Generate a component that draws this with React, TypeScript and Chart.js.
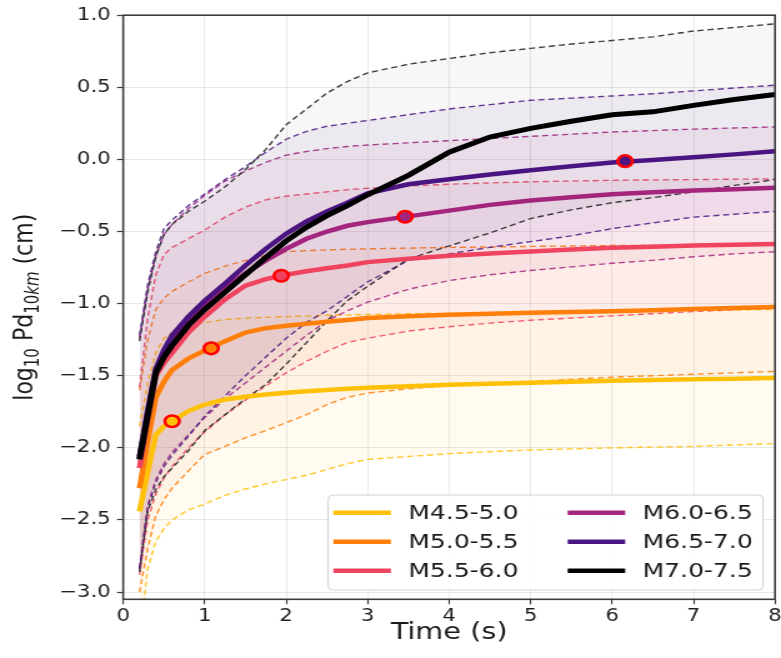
import React, { useEffect, useRef } from 'react';
import { Chart, registerables } from 'chart.js';

Chart.register(...registerables);

// ---------------- data ----------------
const times = [0.2, 0.3, 0.4, 0.5, 0.6, 0.8, 1.0, 1.25, 1.5, 1.75, 2.0, 2.25, 2.5, 2.75, 3.0, 3.5, 4.0, 4.5, 5.0, 5.5, 6.0, 6.5, 7.0, 7.5, 8.0];

const seriesLabels = ['M4.5-5.0', 'M5.0-5.5', 'M5.5-6.0', 'M6.0-6.5', 'M6.5-7.0', 'M7.0-7.5'];

const mean45 = [-2.44, -2.17, -1.91, -1.85, -1.815, -1.745, -1.70, -1.665, -1.645, -1.63, -1.618, -1.607, -1.598, -1.59, -1.583, -1.572, -1.563, -1.555, -1.548, -1.541, -1.535, -1.53, -1.525, -1.52, -1.515];
const upper45 = [-1.85, -1.55, -1.34, -1.24, -1.20, -1.165, -1.13, -1.11, -1.10, -1.095, -1.09, -1.085, -1.08, -1.078, -1.075, -1.07, -1.067, -1.063, -1.06, -1.056, -1.053, -1.05, -1.047, -1.044, -1.04];
const lower45 = [-3.35, -2.84, -2.65, -2.56, -2.50, -2.43, -2.39, -2.33, -2.285, -2.25, -2.22, -2.19, -2.15, -2.11, -2.08, -2.06, -2.04, -2.027, -2.015, -2.007, -2.0, -1.995, -1.99, -1.98, -1.97];

const mean50 = [-2.28, -1.96, -1.65, -1.54, -1.46, -1.38, -1.325, -1.26, -1.20, -1.17, -1.153, -1.14, -1.125, -1.113, -1.10, -1.088, -1.077, -1.07, -1.063, -1.058, -1.053, -1.045, -1.037, -1.03, -1.023];
const upper50 = [-1.60, -1.25, -1.04, -0.96, -0.915, -0.85, -0.79, -0.74, -0.70, -0.665, -0.64, -0.632, -0.627, -0.623, -0.62, -0.615, -0.61, -0.607, -0.603, -0.60, -0.597, -0.595, -0.592, -0.59, -0.588];
const lower50 = [-3.0, -2.70, -2.47, -2.36, -2.28, -2.16, -2.045, -1.99, -1.93, -1.88, -1.826, -1.77, -1.70, -1.65, -1.62, -1.59, -1.57, -1.555, -1.54, -1.525, -1.51, -1.50, -1.49, -1.48, -1.47];

const mean55 = [-2.14, -1.80, -1.50, -1.41, -1.34, -1.20, -1.09, -0.97, -0.875, -0.83, -0.80, -0.775, -0.755, -0.735, -0.712, -0.688, -0.668, -0.652, -0.638, -0.625, -0.612, -0.605, -0.597, -0.591, -0.586];
const upper55 = [-1.58, -1.10, -0.80, -0.66, -0.61, -0.55, -0.49, -0.40, -0.33, -0.28, -0.255, -0.24, -0.225, -0.21, -0.20, -0.185, -0.172, -0.163, -0.155, -0.15, -0.145, -0.142, -0.14, -0.137, -0.135];
const lower55 = [-2.88, -2.50, -2.32, -2.21, -2.13, -2.00, -1.89, -1.77, -1.67, -1.57, -1.48, -1.40, -1.33, -1.27, -1.24, -1.19, -1.16, -1.135, -1.115, -1.10, -1.085, -1.07, -1.055, -1.042, -1.03];

const mean60 = [-2.08, -1.76, -1.47, -1.35, -1.26, -1.12, -1.01, -0.89, -0.79, -0.70, -0.62, -0.55, -0.50, -0.46, -0.435, -0.395, -0.355, -0.315, -0.285, -0.262, -0.242, -0.228, -0.216, -0.206, -0.196];
const upper60 = [-1.24, -0.90, -0.67, -0.52, -0.45, -0.34, -0.25, -0.15, -0.08, -0.02, 0.03, 0.055, 0.075, 0.09, 0.10, 0.115, 0.13, 0.145, 0.16, 0.175, 0.19, 0.20, 0.21, 0.218, 0.225];
const lower60 = [-2.83, -2.40, -2.22, -2.11, -2.03, -1.91, -1.79, -1.66, -1.55, -1.44, -1.33, -1.22, -1.12, -1.05, -0.99, -0.90, -0.84, -0.80, -0.77, -0.745, -0.72, -0.70, -0.675, -0.655, -0.64];

const mean65 = [-2.06, -1.74, -1.45, -1.32, -1.22, -1.09, -0.98, -0.86, -0.735, -0.62, -0.515, -0.43, -0.36, -0.30, -0.235, -0.172, -0.138, -0.105, -0.075, -0.048, -0.022, -0.004, 0.015, 0.035, 0.057];
const upper65 = [-1.22, -0.87, -0.64, -0.48, -0.42, -0.32, -0.24, -0.14, -0.05, 0.05, 0.14, 0.195, 0.23, 0.25, 0.27, 0.31, 0.35, 0.38, 0.41, 0.425, 0.44, 0.455, 0.475, 0.495, 0.515];
const lower65 = [-2.84, -2.42, -2.24, -2.13, -2.05, -1.92, -1.78, -1.64, -1.50, -1.37, -1.24, -1.13, -1.05, -0.95, -0.85, -0.70, -0.655, -0.61, -0.57, -0.53, -0.48, -0.44, -0.40, -0.38, -0.36];

const mean70 = [-2.08, -1.78, -1.48, -1.37, -1.29, -1.15, -1.04, -0.92, -0.80, -0.68, -0.565, -0.47, -0.39, -0.32, -0.245, -0.11, 0.05, 0.155, 0.215, 0.265, 0.31, 0.33, 0.375, 0.415, 0.45];
const upper70 = [-1.26, -0.92, -0.67, -0.52, -0.45, -0.36, -0.29, -0.19, -0.07, 0.07, 0.24, 0.35, 0.46, 0.54, 0.60, 0.66, 0.70, 0.74, 0.77, 0.80, 0.825, 0.85, 0.89, 0.915, 0.94];
const lower70 = [-2.86, -2.44, -2.29, -2.20, -2.14, -2.02, -1.88, -1.77, -1.66, -1.56, -1.42, -1.27, -1.12, -0.98, -0.88, -0.69, -0.60, -0.51, -0.41, -0.35, -0.30, -0.265, -0.225, -0.18, -0.14];

const means = [mean45, mean50, mean55, mean60, mean65, mean70];
const uppers = [upper45, upper50, upper55, upper60, upper65, upper70];
const lowers = [lower45, lower50, lower55, lower60, lower65, lower70];

// highlighted points (one per magnitude bin, none for the last)
const markerSeries = [0, 1, 2, 3, 4];
const markerTimes = [0.60, 1.08, 1.94, 3.46, 6.16];
const markerValues = [-1.815, -1.31, -0.807, -0.397, -0.012];

const xTicks = [0, 1, 2, 3, 4, 5, 6, 7, 8];
const yTicks = [-3.0, -2.5, -2.0, -1.5, -1.0, -0.5, 0.0, 0.5, 1.0];

// ---------------- styles ----------------
const colorsRGB = [
  [255, 193, 7],
  [255, 127, 10],
  [240, 67, 95],
  [163, 37, 126],
  [74, 21, 128],
  [0, 0, 0],
];
const rgba = (c: number[], a: number) => `rgba(${c[0]},${c[1]},${c[2]},${a})`;

const W = 625;
const H = 658;
const SX = 781 / W;
const FONT = '"DejaVu Sans", "Liberation Sans", sans-serif';

const toPts = (ys: number[]) => ys.map((y, i) => ({ x: times[i], y }));

function buildDatasets() {
  const ds: any[] = [];
  ds.push({
    label: 'markers',
    data: markerTimes.map((t, i) => ({ x: t, y: markerValues[i] })),
    showLine: false,
    pointRadius: 5.8,
    pointBorderWidth: 2.5,
    pointBorderColor: '#ff0000',
    pointBackgroundColor: markerSeries.map((s) => rgba(colorsRGB[s], 1)),
    order: -30,
    fill: false,
  });
  for (let i = 0; i < 6; i++) {
    ds.push({
      label: seriesLabels[i],
      data: toPts(means[i]),
      borderColor: rgba(colorsRGB[i], 1),
      borderWidth: i === 5 ? 5 : 4.5,
      pointRadius: 0,
      fill: false,
      tension: 0,
      order: -10 - i,
    });
  }
  for (let i = 0; i < 6; i++) {
    const dashCol = i === 5 ? 'rgba(30,30,30,0.85)' : rgba(colorsRGB[i], 0.85);
    ds.push({
      label: seriesLabels[i] + ' lower',
      data: toPts(lowers[i]),
      borderColor: dashCol,
      borderWidth: 1.4,
      borderDash: [5, 3],
      pointRadius: 0,
      fill: false,
      tension: 0,
      order: 10 - i,
    });
    ds.push({
      label: seriesLabels[i] + ' upper',
      data: toPts(uppers[i]),
      borderColor: dashCol,
      borderWidth: 1.4,
      borderDash: [5, 3],
      pointRadius: 0,
      fill: '-1',
      backgroundColor: i === 5 ? 'rgba(60,60,80,0.045)' : rgba(colorsRGB[i], 0.06),
      tension: 0,
      order: 10 - i,
    });
  }
  return ds;
}

const decorPlugin = {
  id: 'decor',
  afterDraw(chart: any) {
    const { ctx, chartArea } = chart;
    const { left, right, top, bottom } = chartArea;
    ctx.save();
    ctx.strokeStyle = '#3d3d3d';
    ctx.lineWidth = 1.6;
    ctx.strokeRect(left, top, right - left, bottom - top);

    // legend
    const bw = 348;
    const bh = 95;
    const bx = right - 9.6 - bw;
    const by = bottom - 9.3 - bh;
    const r = 4;
    ctx.beginPath();
    ctx.moveTo(bx + r, by);
    ctx.lineTo(bx + bw - r, by);
    ctx.quadraticCurveTo(bx + bw, by, bx + bw, by + r);
    ctx.lineTo(bx + bw, by + bh - r);
    ctx.quadraticCurveTo(bx + bw, by + bh, bx + bw - r, by + bh);
    ctx.lineTo(bx + r, by + bh);
    ctx.quadraticCurveTo(bx, by + bh, bx, by + bh - r);
    ctx.lineTo(bx, by + r);
    ctx.quadraticCurveTo(bx, by, bx + r, by);
    ctx.closePath();
    ctx.fillStyle = 'rgba(255,255,255,0.85)';
    ctx.fill();
    ctx.strokeStyle = '#d0d0d0';
    ctx.lineWidth = 1;
    ctx.stroke();

    ctx.font = `20px ${FONT}`;
    ctx.textBaseline = 'middle';
    ctx.textAlign = 'left';
    for (let i = 0; i < 6; i++) {
      const col = Math.floor(i / 3);
      const row = i % 3;
      const y = by + 17.7 + row * 29;
      const lx = bx + 4.2 + col * 187.5;
      ctx.strokeStyle = rgba(colorsRGB[i], 1);
      ctx.lineWidth = 4.5;
      ctx.beginPath();
      ctx.moveTo(lx, y);
      ctx.lineTo(lx + 46, y);
      ctx.stroke();
      ctx.fillStyle = '#1a1a1a';
      ctx.fillText(seriesLabels[i], lx + 60, y + 1);
    }

    // y-axis title with subscripts
    const parts = [
      { t: 'log', f: `22px ${FONT}`, dy: 0 },
      { t: '10', f: `15px ${FONT}`, dy: 5 },
      { t: ' Pd', f: `22px ${FONT}`, dy: 0 },
      { t: '10', f: `15px ${FONT}`, dy: 5 },
      { t: 'km', f: `italic 15px ${FONT}`, dy: 5 },
      { t: ' (cm)', f: `22px ${FONT}`, dy: 0 },
    ];
    let total = 0;
    const widths = parts.map((p) => {
      ctx.font = p.f;
      const w = ctx.measureText(p.t).width;
      total += w;
      return w;
    });
    ctx.translate(25.6, (top + bottom) / 2);
    ctx.rotate(-Math.PI / 2);
    ctx.textBaseline = 'alphabetic';
    ctx.fillStyle = '#1a1a1a';
    let x = -total / 2;
    parts.forEach((p, i) => {
      ctx.font = p.f;
      ctx.fillText(p.t, x, p.dy);
      x += widths[i];
    });
    ctx.restore();
  },
};

export default function App() {
  const ref = useRef<HTMLCanvasElement>(null);
  useEffect(() => {
    document.body.style.margin = '0';
    document.body.style.overflow = 'hidden';
    document.documentElement.style.overflow = 'hidden';
    const canvas = ref.current;
    if (!canvas) return;
    const chart = new Chart(canvas, {
      type: 'line',
      data: { datasets: buildDatasets() },
      options: {
        responsive: false,
        animation: false,
        devicePixelRatio: 1,
        layout: { autoPadding: false, padding: { left: 0, right: 4.8, top: 14.7, bottom: 0 } },
        plugins: {
          legend: { display: false },
          tooltip: { enabled: false },
          title: { display: false },
        },
        scales: {
          x: {
            type: 'linear',
            min: 0,
            max: 8,
            afterBuildTicks: (scale: any) => {
              scale.ticks = xTicks.map((v) => ({ value: v }));
            },
            afterFit: (scale: any) => {
              scale.height = H - 599.3;
              scale.paddingRight = 0;
              scale.paddingLeft = 0;
            },
            border: { display: false },
            grid: {
              color: 'rgba(0,0,0,0.09)',
              lineWidth: 1,
              tickLength: 5,
              tickColor: '#3d3d3d',
              tickWidth: 1.2,
            },
            ticks: {
              font: { family: FONT, size: 17 },
              color: '#1f1f1f',
              padding: 2,
              maxRotation: 0,
              callback: (v: any) => String(v),
            },
            title: {
              display: true,
              text: 'Time (s)',
              font: { family: FONT, size: 23 },
              color: '#1a1a1a',
              padding: { top: 0, bottom: 11 },
            },
          },
          y: {
            type: 'linear',
            min: -3.05,
            max: 1.0,
            afterBuildTicks: (scale: any) => {
              scale.ticks = yTicks.map((v) => ({ value: v }));
            },
            afterFit: (scale: any) => {
              scale.width = 98.6;
            },
            border: { display: false },
            grid: {
              color: 'rgba(0,0,0,0.09)',
              lineWidth: 1,
              tickLength: 5,
              tickColor: '#3d3d3d',
              tickWidth: 1.2,
            },
            ticks: {
              font: { family: FONT, size: 17 },
              color: '#1f1f1f',
              padding: 5,
              callback: (v: any) => Number(v).toFixed(1).replace('-', '\u2212'),
            },
          },
        },
      } as any,
      plugins: [decorPlugin],
    });
    return () => chart.destroy();
  }, []);

  return (
    <div
      style={{
        width: W,
        height: H,
        transform: `scaleX(${SX})`,
        transformOrigin: '0 0',
        overflow: 'hidden',
      }}
    >
      <canvas ref={ref} width={W} height={H} style={{ display: 'block', width: W, height: H }} />
    </div>
  );
}
